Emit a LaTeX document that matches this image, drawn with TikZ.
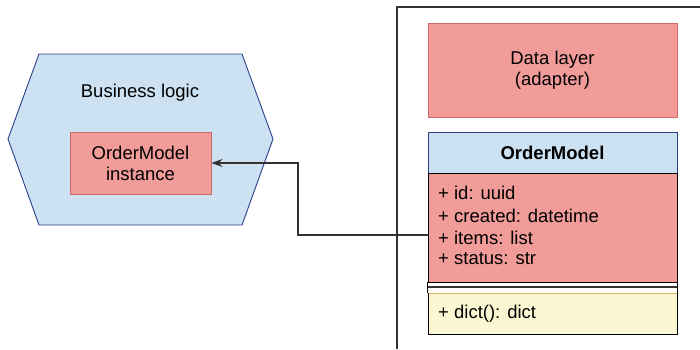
\documentclass[tikz,border=0pt]{standalone}
\usepackage{fontspec}
\setmainfont{Liberation Sans}
\usetikzlibrary{arrows.meta}
\definecolor{hexblue}{HTML}{CCE1F2}
\definecolor{hexedge}{HTML}{2B3F8C}
\definecolor{redfill}{HTML}{F19C99}
\definecolor{rededge}{HTML}{D06A66}
\definecolor{yelfill}{HTML}{FAF7D2}
\definecolor{yeledge}{HTML}{D6B656}
\definecolor{linegray}{HTML}{333333}
\tikzset{
  txt/.style={font=\fontsize{18.5}{22}\selectfont, align=center, inner sep=0pt},
  attr/.style={font=\fontsize{18.5}{22}\selectfont, anchor=west, inner sep=0pt},
  redbox/.style={fill=redfill, draw=rededge, line width=0.9pt},
}
\begin{document}
\begin{tikzpicture}[x=1pt,y=-1pt]
\useasboundingbox (0,0) rectangle (700,349);
% frame
\draw[linegray, line width=1.4pt] (397,349) -- (397,7) -- (700,7);
% hexagon
\draw[fill=hexblue, draw=hexedge, line width=0.9pt]
  (39,54) -- (242,54) -- (273,139) -- (242,225) -- (39,225) -- (8,139) -- cycle;
\node[txt] (bl) at (140,93) {Business logic};
\node[redbox, minimum width=141pt, minimum height=62pt, txt] (inst) at (140.5,163) {OrderModel\\[-1pt]instance};
% data layer
\node[redbox, minimum width=249pt, minimum height=94pt, txt] (dl) at (552.5,70) {Data layer\\[-1pt](adapter)};
% class
\node[fill=hexblue, draw=hexedge, line width=0.9pt, minimum width=249pt, minimum height=41pt, inner sep=0pt,
  font=\fontsize{18.5}{22}\selectfont\bfseries] (hdr) at (552.5,152.5) {OrderModel};
\node[fill=redfill, draw=black, line width=0.9pt, minimum width=249pt, minimum height=109pt, inner sep=0pt] (att) at (552.5,227.5) {};
\node[attr] (a1) at (438,193) {+ id: uuid};
\node[attr] (a2) at (438,215.5) {+ created: datetime};
\node[attr] (a3) at (438,238) {+ items: list};
\node[attr] (a4) at (438,259) {+ status: str};
\draw[black, line width=0.9pt] (att.south west) -- ++(0,11) coordinate (sw);
\draw[black, line width=0.9pt] (att.south east) -- ++(0,11) coordinate (se);
\draw[linegray, line width=1.4pt] (428,287) -- (677,287);
\node[fill=yelfill, draw=black, line width=0.9pt, minimum width=249pt, minimum height=41pt, inner sep=0pt] (mth) at (552.5,313.5) {};
\draw[yeledge, line width=0.9pt] (428.5,293) -- (676.5,293);
\node[attr] (m1) at (438,314) {+ dict(): dict};
% connector
\coordinate (start) at (att.west |- 0,235);
\draw[linegray, line width=1.1pt, -{Stealth[length=11pt,width=8pt]}]
  (start) -- (298,235) -- (298,163) -- (inst.east);
\end{tikzpicture}
\end{document}
